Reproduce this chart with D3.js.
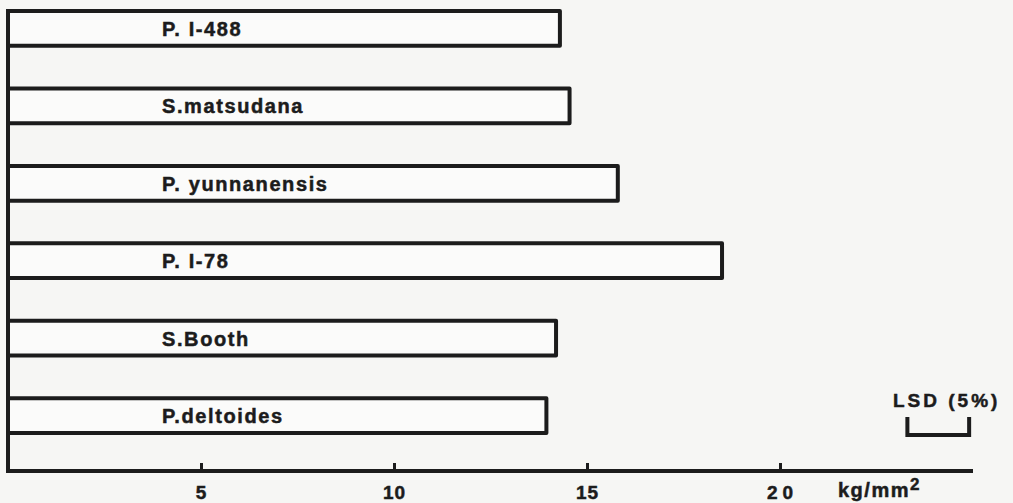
<!DOCTYPE html>
<html>
<head>
<meta charset="utf-8">
<script src="https://cdn.jsdelivr.net/npm/d3@7"></script>
<style>
  html, body { margin: 0; padding: 0; background: #f6f6f4; }
  svg { display: block; }
</style>
</head>
<body>
<div id="chart"></div>
<script>
// clones, top to bottom
const clones = ["P. I-488", "S.matsudana", "P. yunnanensis", "P. I-78", "S.Booth", "P.deltoides"];
const strength = [14.35, 14.6, 15.85, 18.55, 14.25, 14.0];   // kg/mm2
const xTicks = [5, 10, 15, 20];
const unitLabel = "kg/mm";
const lsdValue = 1.6;
const lsdStart = 23.3;

const width = 1013, height = 503;
const ink = "#1c1c1c";
const font = "'Liberation Sans', Arial, Helvetica, sans-serif";

const svg = d3.select("#chart").append("svg").attr("width", width).attr("height", height);

const x = d3.scaleLinear().domain([0, 25]).range([8, 973]);
const y = d3.scaleBand().domain(clones).range([9, 435]).paddingInner(0.5).paddingOuter(0);
const axisY = 471;

// heavier type, like the printed original
function ink_text(sel, size, spacing) {
    sel.style("font-family", font)
        .style("font-weight", "bold")
        .style("font-size", size + "px")
        .style("letter-spacing", spacing + "px")
        .style("fill", ink)
        .style("stroke", ink)
        .style("stroke-width", 0.5);
}

// bars
svg.selectAll(".bar").data(clones).enter().append("rect")
    .attr("x", x(0))
    .attr("y", d => y(d) + 2)
    .attr("width", (d, i) => x(strength[i]) - x(0) - 2)
    .attr("height", y.bandwidth() - 4)
    .attr("fill", "#fbfbfa")
    .attr("stroke", ink)
    .attr("stroke-width", 4)
    .attr("stroke-linejoin", "round");

svg.selectAll(".lbl").data(clones).enter().append("text")
    .attr("x", 162)
    .attr("y", d => y(d) + y.bandwidth() / 2)
    .attr("dy", "0.37em")
    .call(ink_text, 20, 1.6)
    .text(d => d);

// x axis
const xAxis = svg.append("g").attr("transform", `translate(0,${axisY})`)
    .call(d3.axisBottom(x).tickValues(xTicks).tickSize(-8).tickSizeOuter(0).tickPadding(15));
xAxis.select(".domain").attr("stroke", ink).attr("stroke-width", 4)
    .attr("d", `M${x(0)},0H${x(25)}`);
xAxis.selectAll(".tick line").attr("stroke", ink).attr("stroke-width", 3);
xAxis.selectAll(".tick text")
    .call(ink_text, 19, 1)
    .style("letter-spacing", d => d === 20 ? "5px" : "1px")
    .attr("dx", d => d === 20 ? "2px" : 0);

// y axis line
svg.append("line")
    .attr("x1", x(0)).attr("x2", x(0))
    .attr("y1", y.range()[0]).attr("y2", axisY + 2)
    .attr("stroke", ink).attr("stroke-width", 4);

// unit
const unit = svg.append("text")
    .attr("x", 838).attr("y", 497)
    .call(ink_text, 20, 1.5);
unit.append("tspan").text(unitLabel);
unit.append("tspan").attr("dy", -7).style("font-size", "17px").text("2");

// LSD bracket
svg.append("text")
    .attr("x", 893).attr("y", 407)
    .call(ink_text, 19, 3)
    .text("LSD (5%)");

svg.append("path")
    .attr("d", `M${x(lsdStart)},417V435H${x(lsdStart + lsdValue)}V417`)
    .attr("fill", "none")
    .attr("stroke", ink)
    .attr("stroke-width", 4);
</script>
</body>
</html>
